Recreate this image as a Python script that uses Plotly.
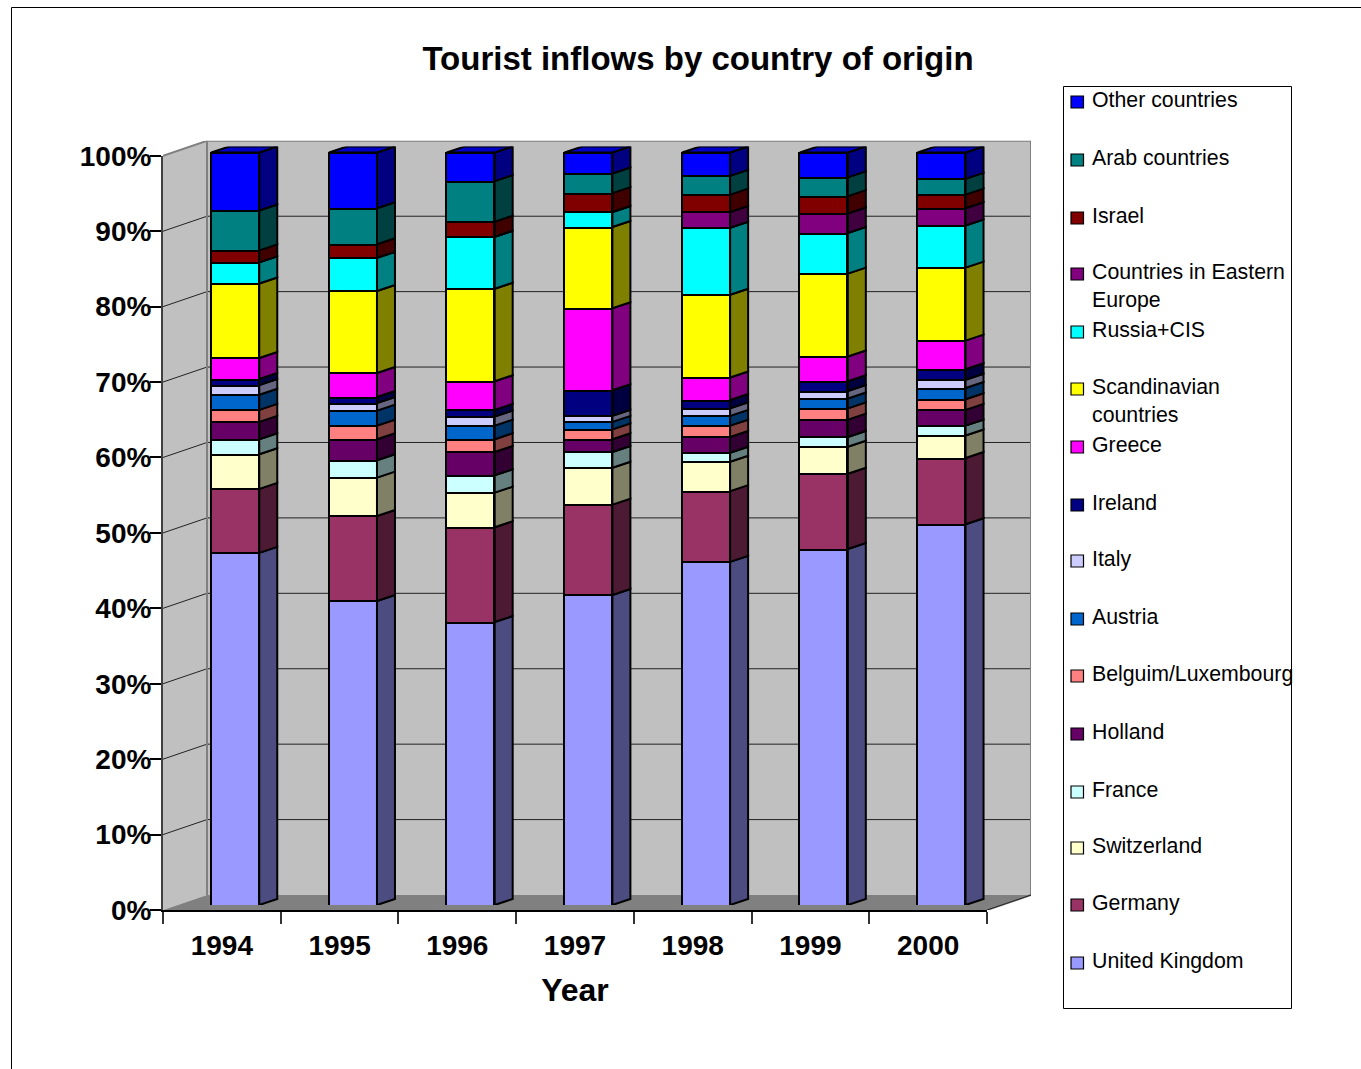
import plotly.graph_objects as go

YEARS = ["1994", "1995", "1996", "1997", "1998", "1999", "2000"]

UNITED_KINGDOM = [46.8, 40.4, 37.6, 41.2, 45.6, 47.3, 50.6]
GERMANY = [8.5, 11.3, 12.6, 12.0, 9.4, 10.0, 8.8]
SWITZERLAND = [4.6, 5.1, 4.6, 4.9, 3.9, 3.6, 3.0]
FRANCE = [2.0, 2.3, 2.3, 2.1, 1.2, 1.3, 1.3]
HOLLAND = [2.3, 2.8, 3.1, 1.7, 2.1, 2.3, 2.1]
BELGIUM_LUX = [1.6, 1.8, 1.7, 1.3, 1.5, 1.5, 1.4]
AUSTRIA = [2.0, 2.0, 1.8, 1.0, 1.3, 1.3, 1.5]
ITALY = [1.3, 1.0, 1.2, 0.8, 1.0, 1.0, 1.1]
IRELAND = [0.8, 0.8, 0.9, 3.4, 1.1, 1.3, 1.4]
GREECE = [2.8, 3.2, 3.8, 10.9, 3.0, 3.3, 3.8]
SCANDINAVIAN = [9.9, 10.9, 12.3, 10.8, 11.0, 11.0, 9.7]
RUSSIA_CIS = [2.8, 4.4, 6.9, 2.0, 8.9, 5.4, 5.6]
EASTERN_EUROPE = [0, 0, 0, 0, 2.1, 2.6, 2.3]
ISRAEL = [1.6, 1.8, 2.0, 2.5, 2.3, 2.3, 1.8]
ARAB = [5.3, 4.8, 5.4, 2.6, 2.5, 2.5, 2.1]
OTHER = [7.7, 7.4, 3.8, 2.8, 3.1, 3.3, 3.5]

SERIES = [
    ("United Kingdom", UNITED_KINGDOM, "#9999FF"),
    ("Germany", GERMANY, "#993366"),
    ("Switzerland", SWITZERLAND, "#FFFFCC"),
    ("France", FRANCE, "#CCFFFF"),
    ("Holland", HOLLAND, "#660066"),
    ("Belguim/Luxembourg", BELGIUM_LUX, "#FF8080"),
    ("Austria", AUSTRIA, "#0066CC"),
    ("Italy", ITALY, "#CCCCFF"),
    ("Ireland", IRELAND, "#000080"),
    ("Greece", GREECE, "#FF00FF"),
    ("Scandinavian<br>countries", SCANDINAVIAN, "#FFFF00"),
    ("Russia+CIS", RUSSIA_CIS, "#00FFFF"),
    ("Countries in Eastern<br>Europe", EASTERN_EUROPE, "#800080"),
    ("Israel", ISRAEL, "#800000"),
    ("Arab countries", ARAB, "#008080"),
    ("Other countries", OTHER, "#0000FF"),
]
# legend text first-line centre, same order as SERIES
LEGEND_Y = [961, 903, 846, 790, 732, 674, 617, 559, 503, 445, 387, 330, 272, 216, 158, 100]

W, H = 1361, 1069
FONT = "Liberation Sans"
px = lambda v: v / W
py = lambda v: 1 - v / H


def shade(col, f):
    r, g, b = (int(col[i:i + 2], 16) for i in (1, 3, 5))
    return f"rgb({round(r * f)},{round(g * f)},{round(b * f)})"


# front plane of the chart box
FX0, FX1, FY0, FY1 = 163, 987, 910, 155.8
CAT = (FX1 - FX0) / 7
UNIT = (FY0 - FY1) / 100
WALL_PX, WALL_PY = 44, 15
WALL_DX, WALL_DY = WALL_PX / CAT, WALL_PY / UNIT
# front plane of the bars
BX0, BX1, BY0, BY1 = 176.4, 1000.4, 905, 152.5
BUNIT = (BY0 - BY1) / 100
BAR_W = 48 / CAT
BAR_PX, BAR_PY = 18, 6
BAR_DX, BAR_DY = BAR_PX / CAT, BAR_PY / BUNIT
EDGE = 2

fig = go.Figure()
L, R = -0.5, 6.5
WALLS = ("x", "y")
FRONT = ("x2", "y2")
BARS = ("x3", "y3")


def poly(xs, ys, fill=None, line=None, width=1, axes=WALLS):
    fig.add_trace(go.Scatter(
        x=xs, y=ys, mode="lines", xaxis=axes[0], yaxis=axes[1],
        fill="toself" if fill else None, fillcolor=fill,
        line=dict(color=line or "rgba(0,0,0,0)", width=width, shape="linear"),
        cliponaxis=False, hoverinfo="skip", showlegend=False))


# walls and floor
poly([L + WALL_DX, R + WALL_DX, R + WALL_DX, L + WALL_DX, L + WALL_DX],
     [WALL_DY, WALL_DY, 100 + WALL_DY, 100 + WALL_DY, WALL_DY], fill="#C0C0C0")
poly([L, L + WALL_DX, L + WALL_DX, L, L], [0, WALL_DY, 100 + WALL_DY, 100, 0], fill="#C0C0C0")
poly([L, L + WALL_DX, R + WALL_DX, R, L], [0, WALL_DY, WALL_DY, 0, 0], fill="#808080")
# gridlines
gx, gy = [], []
for t in range(10, 100, 10):
    gx += [L, L + WALL_DX, R + WALL_DX, None]
    gy += [t, t + WALL_DY, t + WALL_DY, None]
poly(gx, gy, line="#222222", width=1)
# wall borders
poly([L, L + WALL_DX, R + WALL_DX, R + WALL_DX, R], [100, 100 + WALL_DY, 100 + WALL_DY, WALL_DY, 0],
     line="#808080", width=2)
poly([L + WALL_DX, L + WALL_DX], [100 + WALL_DY, WALL_DY], line="#808080", width=2)
poly([R, R + WALL_DX], [0, WALL_DY], line="#222222", width=1)

# empty trace that keeps the front axes alive
xs = list(range(len(YEARS)))
fig.add_trace(go.Scatter(x=xs, y=[None] * len(xs), xaxis="x2", yaxis="y2", mode="lines",
                         hoverinfo="skip", showlegend=False))

# bars
base = [0.0] * len(YEARS)
for name, vals, col in SERIES:
    fig.add_trace(go.Bar(
        x=xs, y=vals, width=BAR_W, xaxis="x3", yaxis="y3", name=name.replace("<br>", " "),
        marker=dict(color=col, line=dict(color="black", width=EDGE)),
        showlegend=False))
    for i, v in enumerate(vals):
        right = i + BAR_W / 2
        poly([right, right + BAR_DX, right + BAR_DX, right, right],
             [base[i], base[i] + BAR_DY, base[i] + v + BAR_DY, base[i] + v, base[i]],
             fill=shade(col, 0.5), line="black", width=EDGE, axes=BARS)
    base = [b + v for b, v in zip(base, vals)]
# lids of the stacks
for i, top in enumerate(base):
    a, b = i - BAR_W / 2, i + BAR_W / 2
    poly([a, b, b + BAR_DX, a + BAR_DX, a], [top, top, top + BAR_DY, top + BAR_DY, top],
         fill=shade(SERIES[-1][2], 0.78), line="black", width=EDGE, axes=BARS)

boundaries = [k - 0.5 for k in range(len(YEARS) + 1)]
tick_font = dict(family=FONT, size=28, color="black", weight=700)
fig.update_layout(
    template="none",
    width=W, height=H, margin=dict(l=0, r=0, t=0, b=0, pad=0, autoexpand=False),
    paper_bgcolor="white", plot_bgcolor="rgba(0,0,0,0)",
    barmode="stack", bargap=0, showlegend=False,
    title=dict(text="Tourist inflows by country of origin", x=px(698), y=py(58.5),
               xanchor="center", yanchor="middle", xref="paper", yref="paper",
               font=dict(family=FONT, size=33, color="black", weight=700)),
    # back wall, side wall and floor
    xaxis=dict(domain=[px(FX0), px(FX1 + WALL_PX)], range=[L, R + WALL_DX], visible=False,
               anchor="y", automargin=False),
    yaxis=dict(domain=[py(FY0), py(FY1 - WALL_PY)], range=[0, 100 + WALL_DY], visible=False,
               anchor="x", automargin=False),
    # front plane: the axes that carry labels
    xaxis2=dict(domain=[px(FX0), px(FX1)], range=[L, R], anchor="y2", automargin=False,
                tickmode="array", tickvals=xs, ticktext=YEARS, ticks="", tickfont=tick_font,
                showgrid=False, zeroline=False, showline=True, linecolor="black", linewidth=1.5,
                ticklabelstandoff=10,
                minor=dict(tickmode="array", tickvals=boundaries, ticks="outside", ticklen=12,
                           tickcolor="#333333", tickwidth=1.5, showgrid=False),
                title=dict(text="Year", standoff=18,
                           font=dict(family=FONT, size=32, color="black", weight=700))),
    yaxis2=dict(domain=[py(FY0), py(FY1)], range=[0, 100], anchor="x2", automargin=False,
                tickmode="array", tickvals=list(range(0, 101, 10)),
                ticktext=[f"{t}%" for t in range(0, 101, 10)],
                ticks="outside", ticklen=11, tickcolor="black", tickwidth=1.5, tickfont=tick_font,
                ticklabelstandoff=-7,
                showgrid=False, zeroline=False, showline=True, linecolor="#404040", linewidth=2),
    # bars
    xaxis3=dict(domain=[px(BX0), px(BX1 + BAR_PX)], range=[L, R + BAR_DX], visible=False,
                anchor="y3", automargin=False),
    yaxis3=dict(domain=[py(BY0), py(BY1 - BAR_PY)], range=[0, 100 + BAR_DY], visible=False,
                anchor="x3", automargin=False),
)

shapes = [
    dict(type="line", xref="paper", yref="paper", x0=px(11.5), x1=px(11.5), y0=py(7.5), y1=0,
         line=dict(color="black", width=1)),
    dict(type="line", xref="paper", yref="paper", x0=px(11.5), x1=1, y0=py(7.5), y1=py(7.5),
         line=dict(color="black", width=1)),
    dict(type="rect", xref="paper", yref="paper", x0=px(1063.5), x1=px(1291.5), y0=py(86.5), y1=py(1008.5),
         line=dict(color="black", width=1), fillcolor="white"),
]
annotations = []
for (name, _, col), y in zip(SERIES, LEGEND_Y):
    shapes.append(dict(type="rect", xref="paper", yref="paper",
                       x0=px(1071), x1=px(1083.5), y0=py(y - 4), y1=py(y + 8),
                       line=dict(color="black", width=1.2), fillcolor=col))
    annotations.append(dict(text=name, xref="paper", yref="paper", x=px(1090.5), y=py(y - 13),
                            xanchor="left", yanchor="top", align="left", showarrow=False,
                            borderpad=0, font=dict(family=FONT, size=21.3, color="black")))
fig.update_layout(shapes=shapes, annotations=annotations)

fig.write_html("out.html", config=dict(displayModeBar=False),
               post_script="document.body.style.margin='0';document.body.style.overflow='hidden';")
